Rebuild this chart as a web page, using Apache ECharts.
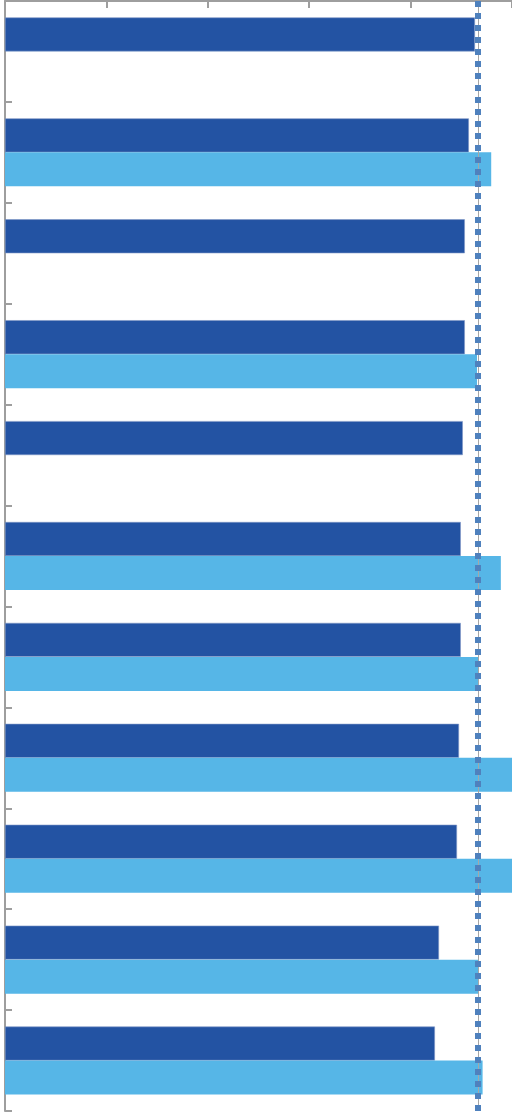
<!DOCTYPE html>
<html>
<head>
<meta charset="utf-8">
<script src="https://cdn.jsdelivr.net/npm/echarts@6/dist/echarts.min.js"></script>
<style>
html,body{margin:0;padding:0;background:#fff;}
#c{width:512px;height:1113px;}
</style>
</head>
<body>
<div id="c"></div>
<script>
const categories = ['1','2','3','4','5','6','7','8','9','10','11'];
const seriesA = [92.7, 91.5, 90.7, 90.7, 90.3, 89.9, 89.9, 89.55, 89.15, 85.6, 84.8];
const seriesB = [null, 95.9, null, 93.1, null, 97.8, 93.35, 101, 101, 93.35, 94.2];
const referenceValue = 93.3;
const xTicks = [0, 20, 40, 60, 80, 100];

const chart = echarts.init(document.getElementById('c'));
chart.setOption({
  animation: false,
  grid: {left: 5, right: 0, top: 1, bottom: 2, containLabel: false},
  xAxis: {
    type: 'value', position: 'top', min: xTicks[0], max: xTicks[xTicks.length-1], interval: 20,
    axisLine: {show: true, lineStyle: {color: '#9E9E9E', width: 2}},
    axisTick: {show: true, inside: true, length: 7, lineStyle: {color: '#9E9E9E', width: 2}},
    axisLabel: {show: false},
    splitLine: {show: false}
  },
  yAxis: {
    type: 'category', data: categories, inverse: true,
    axisLine: {show: true, lineStyle: {color: '#9E9E9E', width: 2}},
    axisTick: {show: true, inside: true, length: 7, lineStyle: {color: '#9E9E9E', width: 2}},
    axisLabel: {show: false}
  },
  series: [
    {
      type: 'bar', data: seriesA, barGap: '0%', barCategoryGap: '32.6%',
      itemStyle: {color: '#2353A3', borderColor: '#7F97C6', borderWidth: 0.6},
      markLine: {
        silent: true, symbol: 'none', label: {show: false},
        data: [{xAxis: referenceValue, lineStyle: {color: '#A6A6A6', width: 1, type: 'solid'}}]
      }
    },
    {
      type: 'bar', data: seriesB, barGap: '0%', barCategoryGap: '32.6%',
      itemStyle: {color: '#56B6E7'},
      markLine: {
        silent: true, symbol: 'none', label: {show: false}, z: 10,
        data: [{xAxis: referenceValue, lineStyle: {color: '#4F81BD', width: 6, type: [6, 6], dashOffset: 0}}]
      }
    }
  ]
});
</script>
</body>
</html>
